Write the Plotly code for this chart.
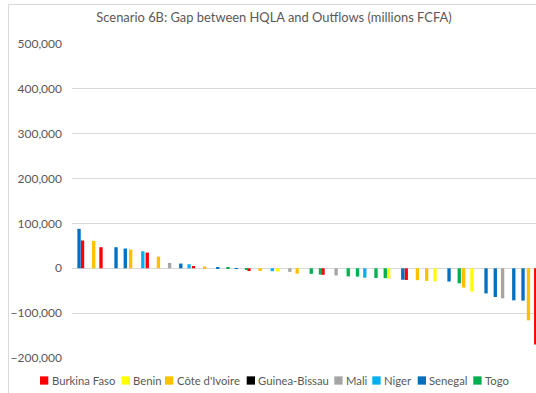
import plotly.graph_objects as go

# ---- data ----
countries = ["Burkina Faso", "Benin", "Côte d'Ivoire", "Guinea-Bissau",
             "Mali", "Niger", "Senegal", "Togo"]
country_colors = ["#FF0000", "#FFFF00", "#FFC000", "#000000",
                  "#A5A5A5", "#00B0F0", "#0070C0", "#00B050"]

bank_country = [
    "Senegal", "Burkina Faso", "Côte d'Ivoire", "Burkina Faso", "Senegal",
    "Senegal", "Côte d'Ivoire", "Niger", "Burkina Faso", "Côte d'Ivoire",
    "Mali", "Senegal", "Niger", "Burkina Faso", "Côte d'Ivoire",
    "Senegal", "Togo", "Senegal", "Togo", "Burkina Faso",
    "Côte d'Ivoire", "Niger", "Benin", "Mali", "Côte d'Ivoire",
    "Togo", "Togo", "Burkina Faso", "Mali", "Togo",
    "Togo", "Niger", "Togo", "Togo", "Benin",
    "Senegal", "Burkina Faso", "Côte d'Ivoire", "Côte d'Ivoire", "Benin",
    "Senegal", "Togo", "Côte d'Ivoire", "Benin", "Senegal",
    "Senegal", "Mali", "Senegal", "Senegal", "Côte d'Ivoire",
    "Burkina Faso",
]
gap_values = [
    88000, 62000, 61000, 47000, 47000,
    44000, 42000, 38000, 35000, 26000,
    12000, 10500, 9000, 5000, 4000,
    2500, 1500, -1500, -3000, -6000,
    -6000, -6500, -7000, -8000, -12000,
    -12500, -14000, -14500, -16000, -18000,
    -18500, -21000, -21500, -22000, -23000,
    -25500, -26000, -26500, -28000, -29000,
    -29500, -33500, -43000, -52000, -56000,
    -64000, -67000, -71500, -72000, -116000,
    -170000,
]
y_tick_values = [-200000, -100000, 0, 100000, 200000, 300000, 400000, 500000]

# ---- layout geometry ----
W, H = 536, 393
ML, MR, MT, MB = 72, 0, 44, 35
PW, PH = W - ML - MR, H - MT - MB


def xp(px):
    return (px - ML) / PW


def yp(py):
    return (H - MB - py) / PH


bank_index = list(range(len(gap_values)))
bar_w = 0.36
step = 0.104

fig = go.Figure()
for k, (c, col) in enumerate(zip(countries, country_colors)):
    ys = [v if bc == c else None for v, bc in zip(gap_values, bank_country)]
    fig.add_trace(go.Bar(
        x=bank_index, y=ys, name=c, marker_color=col,
        marker_line_width=0, width=bar_w,
        offset=(k - 3.5) * step - bar_w / 2,
        showlegend=False,
    ))

font_fam = "Lato, 'Open Sans', sans-serif"
grey = "#595959"

fig.update_layout(
    width=W, height=H,
    margin=dict(l=ML, r=MR, t=MT, b=MB, pad=0),
    paper_bgcolor="white", plot_bgcolor="white",
    barmode="overlay",
    font=dict(family=font_fam, color=grey, size=12),
    title=dict(text="Scenario 6B: Gap between HQLA and Outflows (millions FCFA)",
               x=274 / W, xanchor="center", y=1 - 17 / H, yanchor="middle",
               font=dict(family=font_fam, size=12.9, color=grey)),
    xaxis=dict(range=[-0.5, -0.5 + PW / 9.25], showticklabels=False,
               showgrid=False, zeroline=False, showline=False, ticks=""),
    yaxis=dict(range=[-200000, 500000], tickvals=y_tick_values,
               tickformat=",", showgrid=True, gridcolor="#D9D9D9",
               gridwidth=1, zeroline=True, zerolinecolor="#D9D9D9",
               zerolinewidth=1, showline=False, ticks="",
               ticklabelstandoff=9,
               tickfont=dict(family=font_fam, size=12, color=grey)),
)

# chart-area border (left and top edges visible in the crop)
fig.add_shape(type="line", xref="paper", yref="paper",
              x0=xp(8.5), x1=xp(8.5), y0=yp(4.5), y1=yp(H + 2),
              line=dict(color="#D9D9D9", width=1))
fig.add_shape(type="line", xref="paper", yref="paper",
              x0=xp(8.5), x1=xp(W + 2), y0=yp(4.5), y1=yp(4.5),
              line=dict(color="#D9D9D9", width=1))

# legend (drawn as in the reference: small squares + labels on one row)
legend_sq_x = [40, 121.7, 165, 246.7, 334.3, 372.3, 417.7, 473.3]
legend_cy = 380.5
for name, col, sx in zip(countries, country_colors, legend_sq_x):
    fig.add_shape(type="rect", xref="paper", yref="paper",
                  x0=xp(sx), x1=xp(sx + 8.3),
                  y0=yp(legend_cy + 4.15), y1=yp(legend_cy - 4.15),
                  fillcolor=col, line=dict(width=0))
    fig.add_annotation(text=name, xref="paper", yref="paper",
                       x=xp(sx + 9.5), y=yp(legend_cy), xanchor="left",
                       yanchor="middle", showarrow=False,
                       font=dict(family=font_fam, size=11.3, color=grey))

fig.write_html("out.html")
